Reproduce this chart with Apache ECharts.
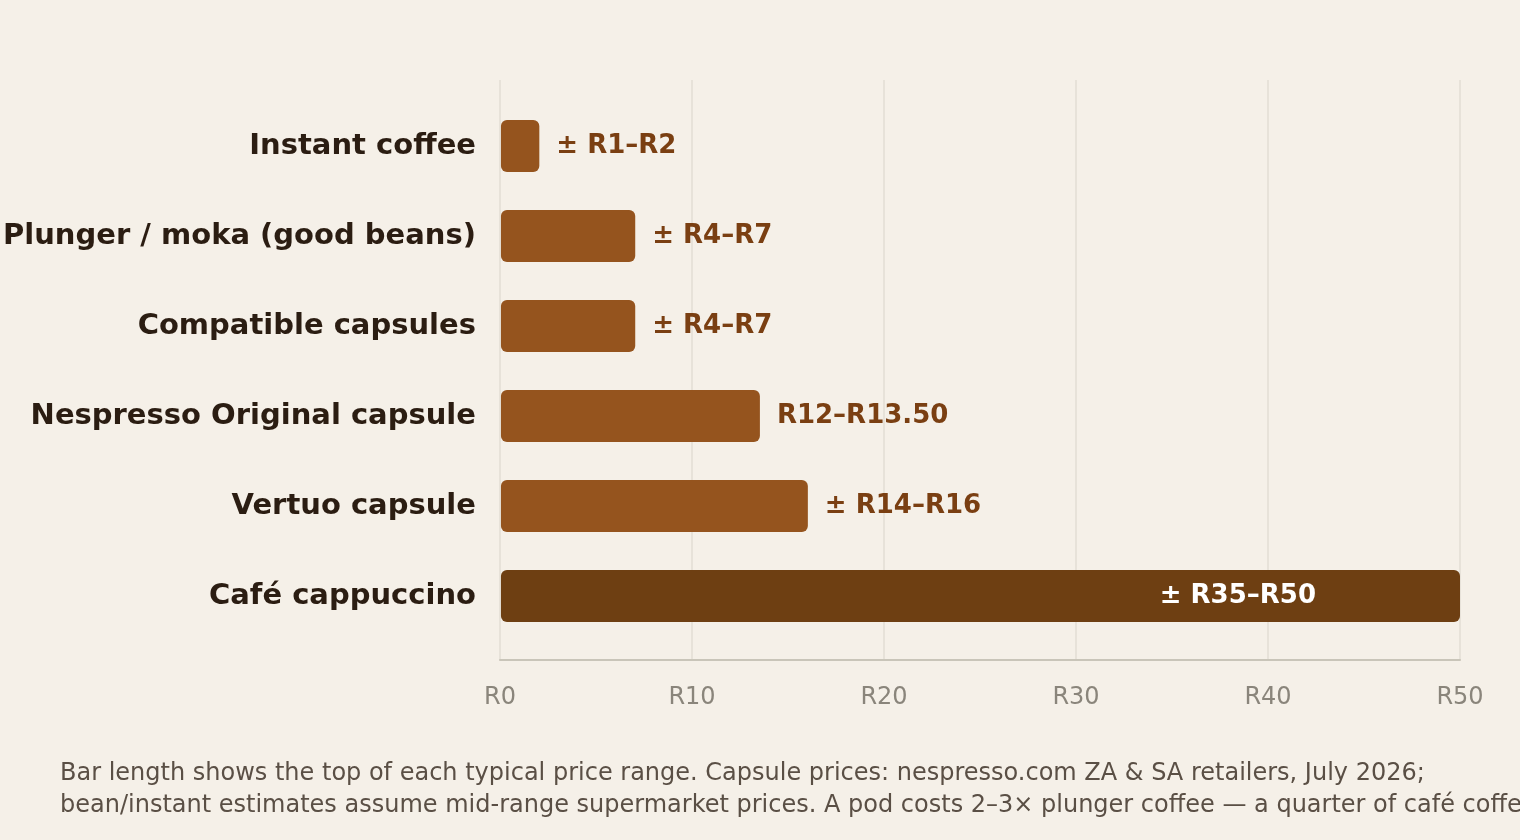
<!DOCTYPE html>
<html>
<head>
<meta charset="utf-8">
<script src="https://cdn.jsdelivr.net/npm/echarts@6/dist/echarts.min.js"></script>
<style>
  html, body { margin: 0; padding: 0; background: #f5f0e8; }
  #chart { width: 1520px; height: 840px; }
</style>
</head>
<body>
<div id="chart"></div>
<script>
// price per cup, top of the typical range (rand)
var categories = [
  "Instant coffee",
  "Plunger / moka (good beans)",
  "Compatible capsules",
  "Nespresso Original capsule",
  "Vertuo capsule",
  "Café cappuccino"
];
var topPrice = [2, 7, 7, 13.5, 16, 50];
var rangeLabels = ["± R1–R2", "± R4–R7", "± R4–R7", "R12–R13.50", "± R14–R16", "± R35–R50"];
var xTicks = [0, 10, 20, 30, 40, 50];

var FONT = "'DejaVu Sans', sans-serif";
var chart = echarts.init(document.getElementById("chart"));

var barData = topPrice.map(function (v, i) {
  var last = i === topPrice.length - 1;
  var item = {
    value: v,
    itemStyle: { color: last ? "#6e3f12" : "#95541e" }
  };
  if (last) {
    // widest bar gets its label inside, in white
    item.label = {
      position: "insideRight",
      distance: 144,
      color: "#ffffff"
    };
  }
  return item;
});

var option = {
  backgroundColor: "#f5f0e8",
  textStyle: { fontFamily: FONT },
  animation: false,
  grid: [
    // bars
    { left: 500, right: 60, top: 101, height: 540 },
    // gridlines + axis
    { left: 500, right: 60, top: 80, height: 580 }
  ],
  xAxis: [
    {
      gridIndex: 0,
      type: "value",
      min: 0,
      max: 50,
      show: false
    },
    {
      gridIndex: 1,
      type: "value",
      min: 0,
      max: 50,
      interval: 10,
      axisLine: { show: true, lineStyle: { color: "#c9c5b9", width: 2 } },
      axisTick: { show: false },
      splitLine: { show: true, lineStyle: { color: "#e2ded4", width: 1.5 } },
      axisLabel: {
        color: "#8a857b",
        fontFamily: FONT,
        fontSize: 24,
        margin: 26,
        formatter: function (v) { return xTicks.indexOf(v) >= 0 ? "R" + v : ""; }
      }
    }
  ],
  yAxis: [
    {
      gridIndex: 0,
      type: "category",
      inverse: true,
      data: categories,
      axisLine: { show: false },
      axisTick: { show: false },
      axisLabel: {
        color: "#2b1d12",
        fontFamily: FONT,
        fontSize: 29,
        fontWeight: "bold",
        margin: 25
      }
    },
    {
      gridIndex: 1,
      type: "category",
      data: [""],
      show: false
    }
  ],
  series: [
    {
      type: "bar",
      xAxisIndex: 0,
      yAxisIndex: 0,
      barWidth: 52,
      itemStyle: { borderRadius: 6 },
      label: {
        show: true,
        position: "right",
        distance: 17,
        fontFamily: FONT,
        fontSize: 26,
        fontWeight: "bold",
        color: "#7a3f12",
        formatter: function (p) { return rangeLabels[p.dataIndex]; }
      },
      data: barData
    }
  ],
  graphic: [
    {
      type: "text",
      left: 60,
      top: 758,
      style: {
        text: "Bar length shows the top of each typical price range. Capsule prices: nespresso.com ZA & SA retailers, July 2026;\nbean/instant estimates assume mid-range supermarket prices. A pod costs 2–3× plunger coffee — a quarter of café coffee.",
        fontSize: 24,
        lineHeight: 32,
        fill: "#5a4f45",
        fontFamily: FONT
      }
    }
  ]
};

chart.setOption(option);
</script>
</body>
</html>
